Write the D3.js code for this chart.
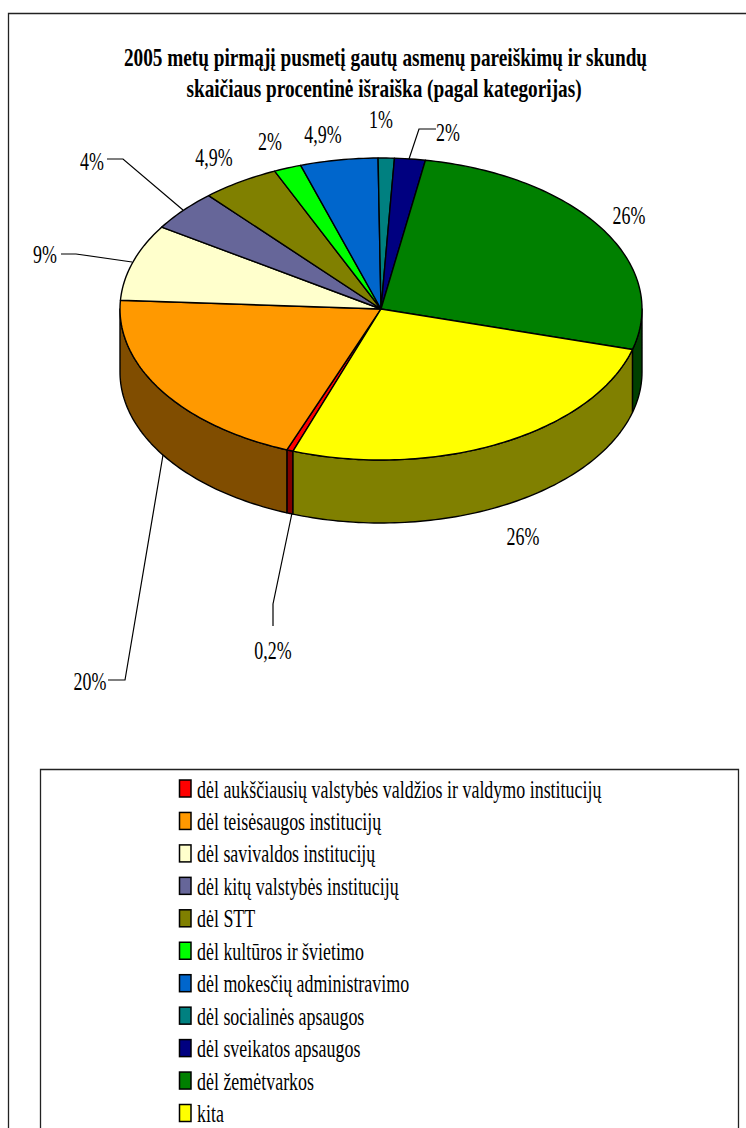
<!DOCTYPE html>
<html>
<head>
<meta charset="utf-8">
<script src="https://cdn.jsdelivr.net/npm/d3@7"></script>
<style>
    html, body { margin: 0; padding: 0; background: #fff; }
    svg { display: block; }
    text { font-family: "Liberation Serif", serif; fill: #000; }
</style>
</head>
<body>
<svg id="chart" width="746" height="1128"></svg>
<script>
// Chart data
const categories = [
    "dėl aukščiausių valstybės valdžios ir valdymo institucijų",
    "dėl teisėsaugos institucijų",
    "dėl savivaldos institucijų",
    "dėl kitų valstybės institucijų",
    "dėl STT",
    "dėl kultūros ir švietimo",
    "dėl mokesčių administravimo",
    "dėl socialinės apsaugos",
    "dėl sveikatos apsaugos",
    "dėl žemėtvarkos",
    "kita"
];
// shares as they are drawn in the picture, printed labels are below
const shares = [0.4, 20.05, 8.2, 4.4, 4.8, 1.7, 4.8, 1, 1.9, 26.6, 26.15];
const valueLabels = ["0,2%", "20%", "9%", "4%", "4,9%", "2%", "4,9%", "1%", "2%", "26%", "26%"];
const colors = ["#ff0000", "#ff9900", "#ffffcc", "#666699", "#808000", "#00ff00", "#0066cc", "#008080", "#000080", "#008000", "#ffff00"];
const titleLines = [
    "2005 metų pirmąjį pusmetį gautų asmenų pareiškimų ir skundų",
    "skaičiaus procentinė išraiška (pagal kategorijas)"
];

// Layout: label centre + baseline, leader polyline where there is one
const labelLayout = [
    { x: 273, y: 659, leader: [[292, 513], [273, 604], [273, 626]] },
    { x: 90, y: 690, leader: [[163, 455], [125, 680], [108, 680]] },
    { x: 45, y: 263, leader: [[132, 262], [76, 254], [61, 254]] },
    { x: 92, y: 170, leader: [[183, 210], [123, 159], [107, 159]] },
    { x: 214, y: 166 },
    { x: 270, y: 150 },
    { x: 323, y: 143 },
    { x: 381, y: 128 },
    { x: 448, y: 141, leader: [[409, 159], [419, 129], [436, 129]] },
    { x: 629, y: 224 },
    { x: 523, y: 545 }
];
const titleCentres = [385.5, 384];

// the original picture is squashed horizontally
const titleSqueeze = 0.77;
const textSqueeze = 0.69;
const depth = 63;

const svg = d3.select("#chart");

// scales from unit circle to the tilted pie
const px = d3.scaleLinear().domain([-1, 1]).range([120, 642]);
const py = d3.scaleLinear().domain([-1, 1]).range([158, 460]);
const rimX = a => px(Math.sin(a));
const rimY = a => py(-Math.cos(a));

const startDeg = 199.7;
const pie = d3.pie().sort(null).value(d => d)
    .startAngle(startDeg * Math.PI / 180)
    .endAngle((startDeg + 360) * Math.PI / 180);
const slices = pie(shares);

function arcPoints(a0, a1) {
    const n = Math.max(2, Math.ceil(Math.abs(a1 - a0) / 0.02));
    return d3.range(n + 1).map(i => a0 + (a1 - a0) * i / n);
}
const line = d3.line();

// outer chart frame, open at right and bottom like the crop
svg.append("path")
    .attr("d", line([[8.5, 1128], [8.5, 13.5], [746, 13.5]]))
    .attr("fill", "none").attr("stroke", "#222").attr("stroke-width", 1.3);

function squeezedText(parent, str, x, y, size, anchor, squeeze, bold) {
    const t = parent.append("text")
        .attr("transform", `translate(${x},${y}) scale(${squeeze},1)`)
        .attr("font-size", size)
        .attr("text-anchor", anchor)
        .text(str);
    if (bold) t.attr("font-weight", "bold");
    return t;
}
// title
titleLines.forEach((s, i) => squeezedText(svg, s, titleCentres[i], 66 + i * 31, 25, "middle", titleSqueeze, true));

// side wall: only the part of each slice facing the viewer (90deg..270deg)
const front = [Math.PI / 2, 3 * Math.PI / 2];
const walls = [];
slices.forEach((d, i) => {
    [0, 2 * Math.PI].forEach(shift => {
        const a0 = Math.max(d.startAngle - shift, front[0]);
        const a1 = Math.min(d.endAngle - shift, front[1]);
        if (a1 > a0) walls.push({ a0, a1, color: colors[i] });
    });
});
svg.append("g").selectAll("path").data(walls).join("path")
    .attr("d", d => {
        const as = arcPoints(d.a0, d.a1);
        const top = as.map(a => [rimX(a), rimY(a)]);
        const bottom = as.slice().reverse().map(a => [rimX(a), rimY(a) + depth]);
        return line(top.concat(bottom)) + "Z";
    })
    .attr("fill", d => {
        const c = d3.rgb(d.color);
        return d3.rgb(c.r / 2, c.g / 2, c.b / 2);
    })
    .attr("stroke", "#000").attr("stroke-width", 1.4).attr("stroke-linejoin", "round");

// top face
svg.append("g").selectAll("path").data(slices).join("path")
    .attr("d", d => {
        const pts = arcPoints(d.startAngle, d.endAngle).map(a => [rimX(a), rimY(a)]);
        return line([[px(0), py(0)]].concat(pts)) + "Z";
    })
    .attr("fill", (d, i) => colors[i])
    .attr("stroke", "#000").attr("stroke-width", 1.4).attr("stroke-linejoin", "round");

// leaders
svg.append("g").selectAll("path").data(labelLayout.filter(d => d.leader)).join("path")
    .attr("d", d => line(d.leader))
    .attr("fill", "none").attr("stroke", "#000").attr("stroke-width", 1.2);

// value labels
valueLabels.forEach((s, i) => squeezedText(svg, s, labelLayout[i].x, labelLayout[i].y, 26, "middle", textSqueeze, false));

// legend box
svg.append("path")
    .attr("d", line([[40.5, 1128], [40.5, 769.5], [738.5, 769.5], [738.5, 1128]]))
    .attr("fill", "#fff").attr("stroke", "#222").attr("stroke-width", 1.3);

const legendY = d3.scalePoint().domain(categories).range([788.5, 1113]);
const legend = svg.append("g").selectAll("g").data(categories).join("g")
    .attr("transform", d => `translate(0,${legendY(d)})`);
legend.append("rect")
    .attr("x", 179.5).attr("y", -8.5).attr("width", 11.5).attr("height", 17)
    .attr("fill", (d, i) => colors[i])
    .attr("stroke", "#000").attr("stroke-width", 1.5);
legend.each(function(d) {
    squeezedText(d3.select(this), d, 197, 9, 26, "start", textSqueeze, false);
});
</script>
</body>
</html>
